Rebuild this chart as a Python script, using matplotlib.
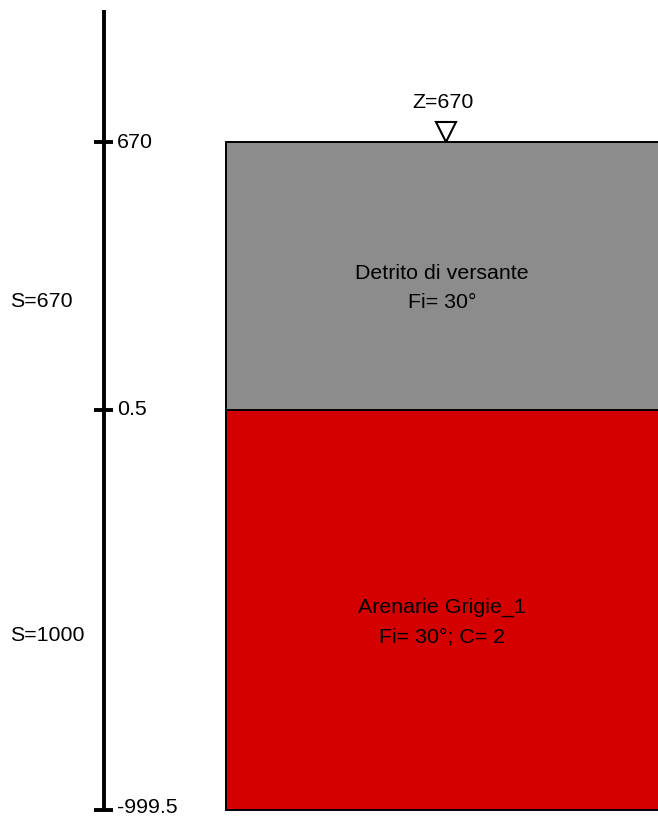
import matplotlib
matplotlib.use("Agg")
import matplotlib.pyplot as plt
from matplotlib.patches import Rectangle

plt.rcParams['font.family'] = ['Liberation Sans', 'DejaVu Sans']

# stratigraphy data
layer_top = [670, 0.5]
layer_bottom = [0.5, -999.5]
layer_names = ['Detrito di versante', 'Arenarie Grigie_1']
layer_params = ['Fi= 30°', 'Fi= 30°; C= 2']
layer_thick = ['S=670', 'S=1000']
layer_colors = ['#8c8c8c', '#d40000']
tick_vals = [670, 0.5, -999.5]
tick_labels = ['670', '0.5', '-999.5']
water_z = 670
water_label = 'Z=670'

px = 2.5  # elevation units per pixel
fs = 15.4
fig = plt.figure(figsize=(6.58, 8.18), dpi=100)
ax = fig.add_axes([0, 0, 1, 1])
ax.set_xlim(0, 658)
ax.set_ylim(670 - 676 * px, 670 + 142 * px)
ax.axis('off')

# vertical scale bar
ax.plot([104, 104], [670 + 132 * px, layer_bottom[-1]], color='black', lw=2.8, solid_capstyle='butt')
for v, lab in zip(tick_vals, tick_labels):
    ax.plot([94, 113], [v, v], color='black', lw=2.8, solid_capstyle='butt')
    off = 2 * px if v == tick_vals[-1] else 0
    ax.text(117, v + off, lab, ha='left', va='center', fontsize=fs)

# layers
for top, bot, name, par, s, col in zip(layer_top, layer_bottom, layer_names,
                                        layer_params, layer_thick, layer_colors):
    ax.add_patch(Rectangle((226, bot), 440, top - bot, facecolor=col,
                           edgecolor='black', lw=1.4))
    mid = (top + bot) / 2
    ax.text(442, mid + 2 * px, name, ha='center', va='center', fontsize=fs)
    ax.text(442, mid - 27 * px, par, ha='center', va='center', fontsize=fs)
    ax.text(10, mid - 26 * px, s, ha='left', va='center', fontsize=fs)

# water table marker
ax.plot(446, water_z + 10.5 * px, marker='v', ms=14.5, mfc='white', mec='black', mew=1.5)
ax.text(443, water_z + 39 * px, water_label, ha='center', va='center', fontsize=fs)

fig.savefig('out.png', dpi=100)
